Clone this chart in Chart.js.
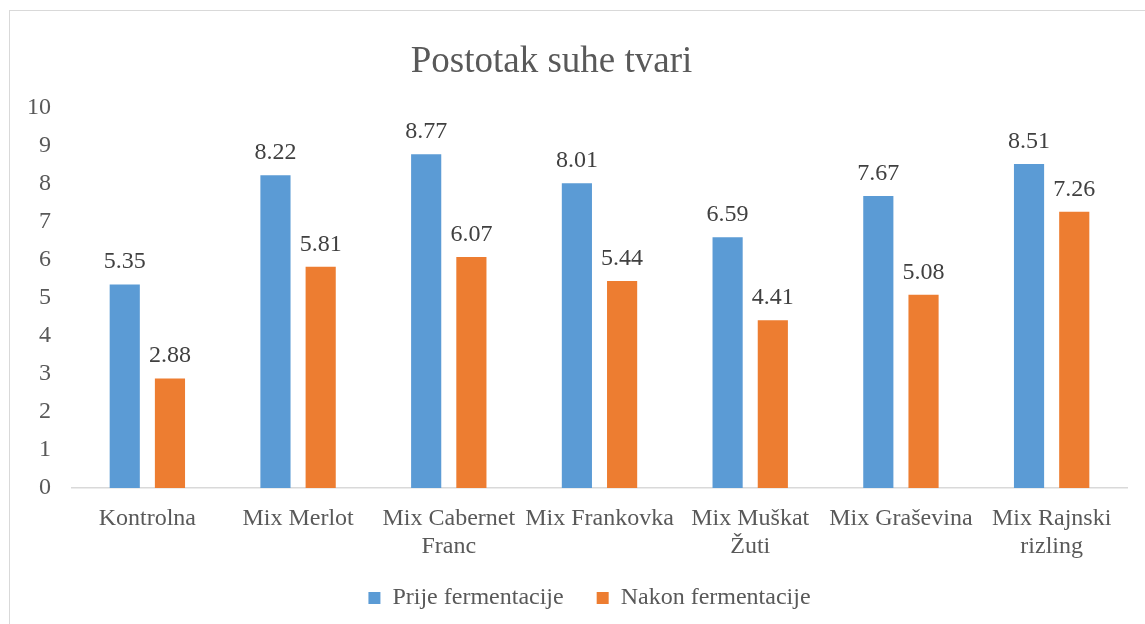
<!DOCTYPE html>
<html>
<head>
<meta charset="utf-8">
<script src="https://cdn.jsdelivr.net/npm/chart.js@4/dist/chart.umd.min.js"></script>
<style>
  html, body { margin: 0; padding: 0; background: #fff; }
  #wrap { position: relative; width: 1145px; height: 624px; }
  #frame {
    position: absolute; left: 9px; top: 10px; width: 1200px; height: 700px;
    border-top: 1px solid #d9d9d9; border-left: 1px solid #d9d9d9;
    pointer-events: none;
  }
</style>
</head>
<body>
<div id="wrap">
  <canvas id="suhaTvar" width="1145" height="624"></canvas>
  <div id="frame"></div>
</div>
<script>
const categories = [
  "Kontrolna",
  "Mix Merlot",
  ["Mix Cabernet", "Franc"],
  "Mix Frankovka",
  ["Mix Muškat", "Žuti"],
  "Mix Graševina",
  ["Mix Rajnski", "rizling"],
];
const prijeFermentacije = [5.35, 8.22, 8.77, 8.01, 6.59, 7.67, 8.51];
const nakonFermentacije = [2.88, 5.81, 6.07, 5.44, 4.41, 5.08, 7.26];
const yTicks = [0, 1, 2, 3, 4, 5, 6, 7, 8, 9, 10];

const textColor = "#595959";
const serif = "'Liberation Serif', 'Times New Roman', serif";

// draws the value above each bar
const valueLabels = {
  id: "valueLabels",
  afterDatasetsDraw(chart) {
    const ctx = chart.ctx;
    ctx.save();
    ctx.font = "24px " + serif;
    ctx.fillStyle = "#404040";
    ctx.textAlign = "center";
    ctx.textBaseline = "alphabetic";
    chart.data.datasets.forEach((ds, i) => {
      chart.getDatasetMeta(i).data.forEach((bar, j) => {
        ctx.fillText(ds.data[j].toFixed(2), bar.x, bar.y - 16);
      });
    });
    ctx.restore();
  },
};

// nudge title and legend sideways like in the original,
// and let the two-line x labels run past the axis box
const nudgeBlocks = {
  id: "nudgeBlocks",
  afterLayout(chart) {
    chart.titleBlock.right -= 24;
    chart.legend.left += 26;
    chart.legend.right += 26;
    chart.scales.x.bottom = chart.height;
  },
};

const ctx = document.getElementById("suhaTvar").getContext("2d");

let chart = new Chart(ctx, {
  type: "bar",
  data: {
    labels: categories,
    datasets: [
      {
        label: "Prije fermentacije",
        data: prijeFermentacije,
        backgroundColor: "#5B9BD5",
        categoryPercentage: 0.6,
        barPercentage: 0.667,
      },
      {
        label: "Nakon fermentacije",
        data: nakonFermentacije,
        backgroundColor: "#ED7D31",
        categoryPercentage: 0.6,
        barPercentage: 0.667,
      },
    ],
  },
  options: {
    responsive: false,
    animation: false,
    layout: { padding: { top: 10, right: 18, bottom: 4, left: 0 } },
    plugins: {
      title: {
        display: true,
        text: "Postotak suhe tvari",
        color: textColor,
        font: { family: serif, size: 37, weight: "normal", lineHeight: 1.2 },
        padding: { top: 30, bottom: 23 },
      },
      legend: {
        position: "bottom",
        labels: {
          color: textColor,
          font: { family: serif, size: 24 },
          boxWidth: 12,
          boxHeight: 12,
          padding: 33,
        },
      },
      tooltip: { enabled: false },
    },
    scales: {
      x: {
        grid: { display: false, drawTicks: false },
        border: { color: "#d9d9d9", width: 1.5 },
        ticks: {
          color: textColor,
          font: { family: serif, size: 24, lineHeight: 1.17 },
          padding: 17,
          maxRotation: 0,
          autoSkip: false,
        },
        afterFit(scale) {
          scale.height = 65;
        },
      },
      y: {
        min: 0,
        max: 10,
        grid: { display: false, drawTicks: false },
        border: { display: false },
        afterBuildTicks(scale) {
          scale.ticks = yTicks.map((v) => ({ value: v }));
        },
        ticks: {
          color: textColor,
          font: { family: serif, size: 24 },
          padding: 21,
        },
        afterFit(scale) {
          scale.width = 72;
        },
      },
    },
  },
  plugins: [valueLabels, nudgeBlocks],
});
</script>
</body>
</html>
